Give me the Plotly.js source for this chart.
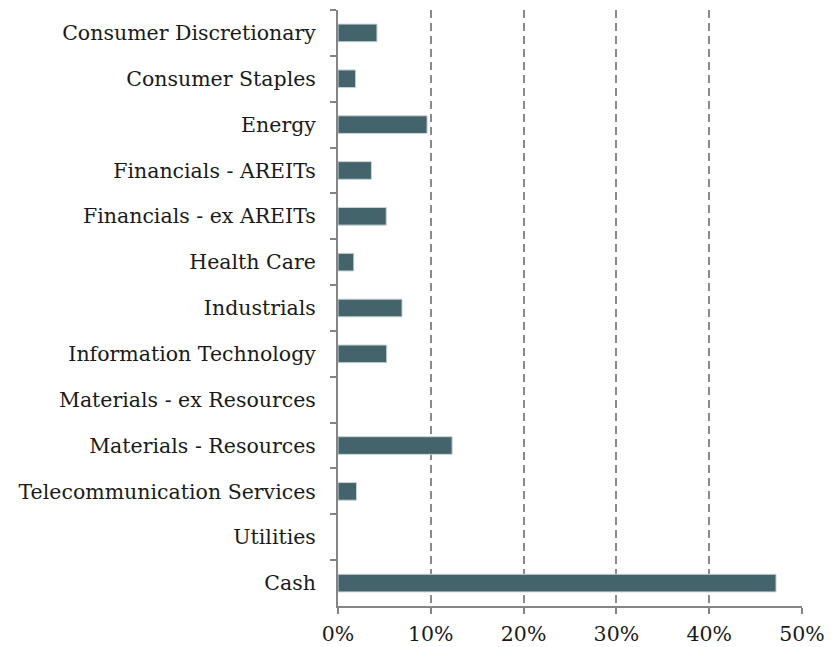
<!DOCTYPE html>
<html>
<head>
<meta charset="utf-8">
<script src="https://cdn.plot.ly/plotly-3.0.1.min.js"></script>
<style>html,body{margin:0;padding:0;background:#fff}#chart{width:834px;height:647px}</style>
</head>
<body>
<div id="chart"></div>
<script>
const categories = [
  "Consumer Discretionary",
  "Consumer Staples",
  "Energy",
  "Financials - AREITs",
  "Financials - ex AREITs",
  "Health Care",
  "Industrials",
  "Information Technology",
  "Materials - ex Resources",
  "Materials - Resources",
  "Telecommunication Services",
  "Utilities",
  "Cash"
];
const weights = [0.042, 0.019, 0.096, 0.036, 0.052, 0.017, 0.069, 0.0525, 0, 0.123, 0.020, 0, 0.472];
const xTicks = [0, 0.1, 0.2, 0.3, 0.4, 0.5];
const xTickLabels = ["0%", "10%", "20%", "30%", "40%", "50%"];

const fontFamily = "'DejaVu Serif', 'Liberation Serif', serif";

Plotly.newPlot('chart', [{
  type: 'bar',
  orientation: 'h',
  y: categories,
  x: weights,
  width: 0.385,
  marker: {color: '#44646c', line: {color: '#c9d3d6', width: weights.map(v => v > 0 ? 1 : 0)}},
  hoverinfo: 'none'
}], {
  width: 834,
  height: 647,
  margin: {l: 338, r: 32, t: 10, b: 41},
  paper_bgcolor: '#fff',
  plot_bgcolor: '#fff',
  showlegend: false,
  font: {family: fontFamily, size: 20.5, color: '#1a1a1a'},
  xaxis: {
    range: [0, 0.5],
    tickvals: xTicks,
    ticktext: xTickLabels,
    showgrid: true,
    gridcolor: '#8a8a8a',
    gridwidth: 2,
    griddash: '8px,5px',
    zeroline: false,
    showline: true,
    linecolor: '#858585',
    linewidth: 2,
    ticks: 'outside',
    ticklen: 6,
    tickwidth: 2,
    tickcolor: '#858585',
    ticklabelstandoff: 2,
    tickfont: {family: fontFamily, size: 20.5, color: '#1a1a1a'}
  },
  yaxis: {
    type: 'category',
    autorange: 'reversed',
    showgrid: false,
    zeroline: false,
    showline: true,
    linecolor: '#858585',
    linewidth: 2,
    ticks: 'outside',
    tickson: 'boundaries',
    ticklen: 6,
    tickwidth: 2,
    tickcolor: '#858585',
    ticklabelstandoff: 16,
    tickfont: {family: fontFamily, size: 20.5, color: '#1a1a1a'}
  }
}, {displayModeBar: false, staticPlot: true});
</script>
</body>
</html>
